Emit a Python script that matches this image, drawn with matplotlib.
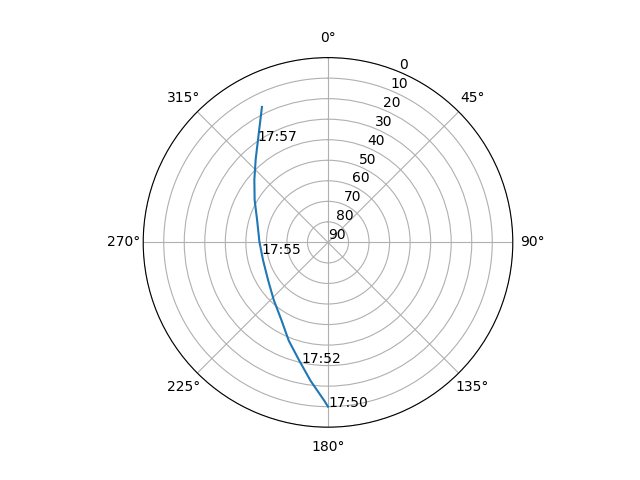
import numpy as np
import matplotlib
matplotlib.use("Agg")
import matplotlib.pyplot as plt

# Satellite pass track: azimuth (deg) and elevation (deg)
azimuth = [180.0, 181.3, 187.2, 193.7, 201.8, 210.8, 223.1, 237.7, 254.7,
           270.5, 287.5, 300.1, 310.4, 318.8, 325.7, 331.2, 334.0]
elevation = [10.0, 12.8, 22.1, 30.8, 38.5, 45.8, 51.4, 55.5, 57.2,
             56.6, 53.8, 48.7, 42.9, 36.5, 29.5, 21.7, 16.6]

# Time labels along the track
label_times = ["17:50", "17:52", "17:55", "17:57"]
label_az = [180.0, 192.2, 260.0, 325.0]
label_el = [10.0, 29.8, 57.2, 29.9]

radial_ticks = list(range(0, 91, 10))

fig = plt.figure(figsize=(6.4, 4.8), dpi=100)
ax = fig.add_subplot(111, projection="polar")
ax.set_theta_zero_location("N")
ax.set_theta_direction(-1)

ax.plot(np.radians(azimuth), elevation)
for t, a, e in zip(label_times, label_az, label_el):
    ax.text(np.radians(a), e, t)

ax.set_rlim(90, 0)
ax.set_yticks(radial_ticks)

fig.savefig("out.png", dpi=100)
